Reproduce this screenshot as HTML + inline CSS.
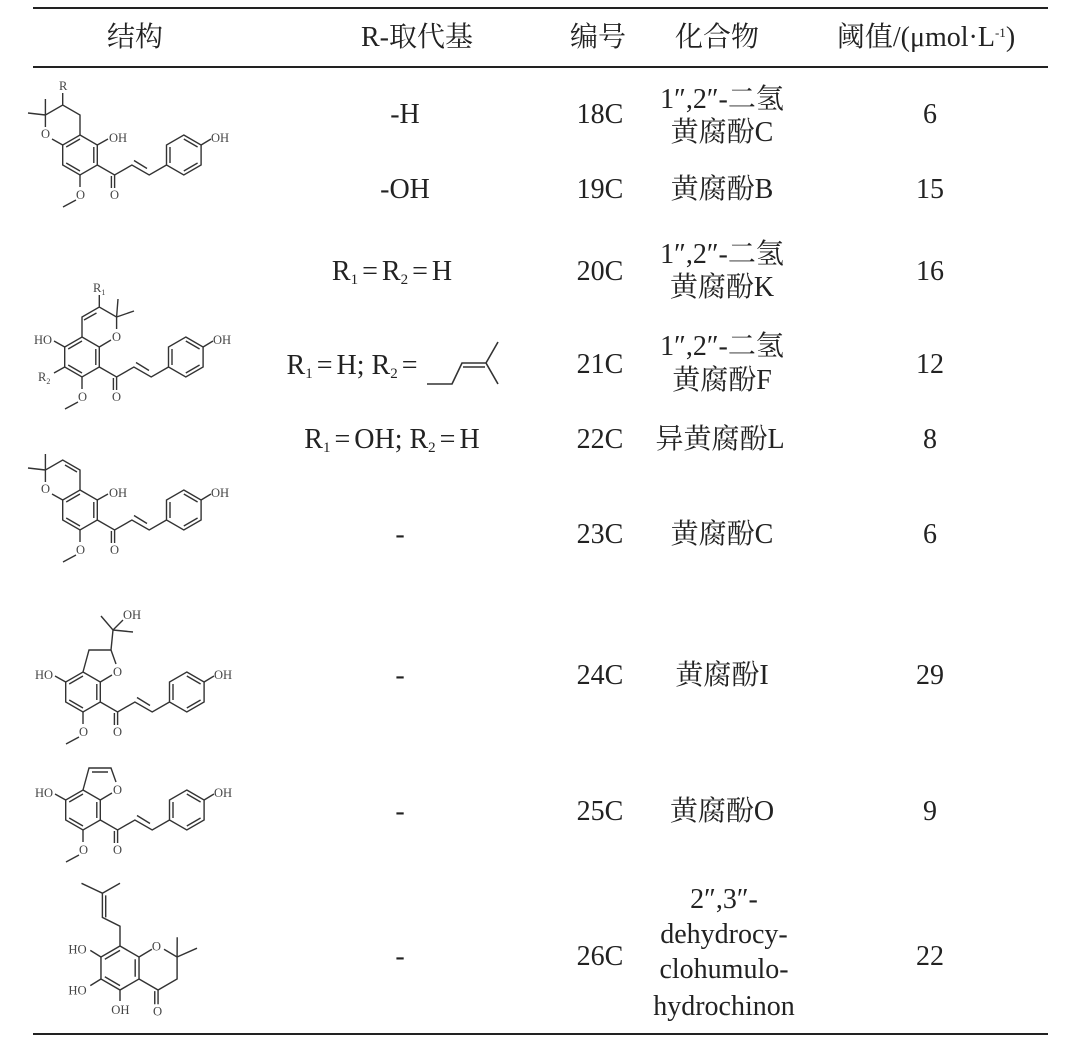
<!DOCTYPE html>
<html><head><meta charset="utf-8">
<style>
html,body{margin:0;padding:0;background:#fff;}
body{width:1091px;height:1044px;position:relative;overflow:hidden;font-family:"Liberation Serif","Noto Serif CJK SC",serif;color:#222;}
.t{position:absolute;font-size:28px;line-height:1;white-space:nowrap;transform:translate(-50%,-50%);}
.rule{position:absolute;left:33px;width:1015px;background:#222;}
sub{font-size:15px;vertical-align:-4px;line-height:0}
sup{font-size:13px;vertical-align:9px;line-height:0}
.eq{margin:0 4px}
svg{position:absolute;left:0;top:0;}
svg text{font-family:"Liberation Serif",serif;fill:#444;}
</style></head><body>
<div class="rule" style="top:7px;height:2px"></div>
<div class="rule" style="top:66px;height:1.5px"></div>
<div class="rule" style="top:1033px;height:2px"></div>

<div class="t" style="left:135px;top:38px">结构</div>
<div class="t" style="left:417px;top:38px">R-取代基</div>
<div class="t" style="left:598px;top:38px">编号</div>
<div class="t" style="left:717px;top:38px">化合物</div>
<div class="t" style="left:926px;top:38px">阈值/(μmol·L<sup>-1</sup>)</div>

<div class="t" style="left:405px;top:115px">-H</div>
<div class="t" style="left:600px;top:115px">18C</div>
<div class="t" style="left:722px;top:100px">1″,2″-二氢</div>
<div class="t" style="left:722px;top:133px">黄腐酚C</div>
<div class="t" style="left:930px;top:115px">6</div>

<div class="t" style="left:405px;top:190px">-OH</div>
<div class="t" style="left:600px;top:190px">19C</div>
<div class="t" style="left:722px;top:190px">黄腐酚B</div>
<div class="t" style="left:930px;top:190px">15</div>

<div class="t" style="left:392px;top:272px">R<sub>1</sub><span class="eq">=</span>R<sub>2</sub><span class="eq">=</span>H</div>
<div class="t" style="left:600px;top:272px">20C</div>
<div class="t" style="left:722px;top:255px">1″,2″-二氢</div>
<div class="t" style="left:722px;top:288px">黄腐酚K</div>
<div class="t" style="left:930px;top:272px">16</div>

<div class="t" style="left:354px;top:366px">R<sub>1</sub><span class="eq">=</span>H; R<sub>2</sub><span class="eq">=</span></div>
<div class="t" style="left:600px;top:365px">21C</div>
<div class="t" style="left:722px;top:347px">1″,2″-二氢</div>
<div class="t" style="left:722px;top:381px">黄腐酚F</div>
<div class="t" style="left:930px;top:365px">12</div>

<div class="t" style="left:392px;top:440px">R<sub>1</sub><span class="eq">=</span>OH; R<sub>2</sub><span class="eq">=</span>H</div>
<div class="t" style="left:600px;top:440px">22C</div>
<div class="t" style="left:720px;top:440px">异黄腐酚L</div>
<div class="t" style="left:930px;top:440px">8</div>

<div class="t" style="left:400px;top:535px">-</div>
<div class="t" style="left:600px;top:535px">23C</div>
<div class="t" style="left:722px;top:535px">黄腐酚C</div>
<div class="t" style="left:930px;top:535px">6</div>

<div class="t" style="left:400px;top:676px">-</div>
<div class="t" style="left:600px;top:676px">24C</div>
<div class="t" style="left:722px;top:676px">黄腐酚I</div>
<div class="t" style="left:930px;top:676px">29</div>

<div class="t" style="left:400px;top:812px">-</div>
<div class="t" style="left:600px;top:812px">25C</div>
<div class="t" style="left:722px;top:812px">黄腐酚O</div>
<div class="t" style="left:930px;top:812px">9</div>

<div class="t" style="left:400px;top:957px">-</div>
<div class="t" style="left:600px;top:957px">26C</div>
<div class="t" style="left:724px;top:900px">2″,3″-</div>
<div class="t" style="left:724px;top:935px">dehydrocy-</div>
<div class="t" style="left:724px;top:970px">clohumulo-</div>
<div class="t" style="left:724px;top:1007px">hydrochinon</div>
<div class="t" style="left:930px;top:957px">22</div>

<svg width="1091" height="1044" viewBox="0 0 1091 1044">
<defs>
<g id="ch" fill="none" stroke="#333" stroke-width="1.4">
 <polygon points="0,-20 17.3,-10 17.3,10 0,20 -17.3,10 -17.3,-10"/>
 <path d="M13.8,-8 L13.8,8 M0,16 L-13.8,8 M-13.8,-8 L0,-16"/>
 <polyline points="17.3,10 34.6,20 51.9,10 69.2,20 86.5,10"/>
 <path d="M54,5.5 L67,13.5 M34.6,20 L34.6,33 M31.4,21 L31.4,33"/>
 <polygon points="103.8,-20 121.1,-10 121.1,10 103.8,20 86.5,10 86.5,-10"/>
 <path d="M103.8,-16 L117.6,-8 M117.6,8 L103.8,16 M90,8 L90,-8 M121.1,-10 L131,-16"/>
 <path d="M0,20 L0,32 M-4,45 L-17,52"/>
</g>
</defs>

<!-- structure 1 -->
<g transform="translate(80,155)" font-size="12.5">
 <use href="#ch"/>
 <g fill="none" stroke="#333" stroke-width="1.4">
  <path d="M17.3,-10 L28,-16 M-17.3,-10 L-28,-16 M-34.6,-28 L-34.6,-40 L-17.3,-50 L0,-40 L0,-20 M-34.6,-40 L-52,-42 M-34.6,-40 L-34.6,-56 M-17.3,-50 L-17.3,-62"/>
 </g>
 <text x="29" y="-13">OH</text><text x="131" y="-13">OH</text>
 <text x="-39" y="-17">O</text><text x="-21" y="-65">R</text>
 <text x="-4" y="44">O</text><text x="30" y="44">O</text>
</g>

<!-- structure 2 -->
<g transform="translate(82,357)" font-size="12.5">
 <use href="#ch"/>
 <g fill="none" stroke="#333" stroke-width="1.4">
  <path d="M17.3,-10 L29,-17 M34.6,-28 L34.6,-40 L17.3,-50 L0,-40 L0,-20 M14.5,-44 L2,-37 M34.6,-40 L36,-58 M34.6,-40 L52,-46 M17.3,-50 L17.3,-62 M-17.3,-10 L-28,-16 M-17.3,10 L-28,16"/>
 </g>
 <text x="30" y="-16">O</text><text x="131" y="-13">OH</text>
 <text x="11" y="-65">R<tspan font-size="8" dy="3">1</tspan></text>
 <text x="-48" y="-13">HO</text><text x="-44" y="24">R<tspan font-size="8" dy="3">2</tspan></text>
 <text x="-4" y="44">O</text><text x="30" y="44">O</text>
</g>

<!-- structure 3 -->
<g transform="translate(80,510)" font-size="12.5">
 <use href="#ch"/>
 <g fill="none" stroke="#333" stroke-width="1.4">
  <path d="M17.3,-10 L28,-16 M-17.3,-10 L-28,-16 M-34.6,-28 L-34.6,-40 L-17.3,-50 L0,-40 L0,-20 M-15,-45 L-3,-38 M-34.6,-40 L-52,-42 M-34.6,-40 L-34.6,-56"/>
 </g>
 <text x="29" y="-13">OH</text><text x="131" y="-13">OH</text>
 <text x="-39" y="-17">O</text>
 <text x="-4" y="44">O</text><text x="30" y="44">O</text>
</g>

<!-- structure 4 -->
<g transform="translate(83,692)" font-size="12.5">
 <use href="#ch"/>
 <g fill="none" stroke="#333" stroke-width="1.4">
  <path d="M17.3,-10 L29,-17 M33,-28 L28,-42 L6,-42 L0,-20 M28,-42 L30,-62 L18,-76 M30,-62 L50,-60 M30,-62 L40,-72 M-17.3,-10 L-28,-16"/>
 </g>
 <text x="30" y="-16">O</text><text x="131" y="-13">OH</text>
 <text x="40" y="-73">OH</text>
 <text x="-48" y="-13">HO</text>
 <text x="-4" y="44">O</text><text x="30" y="44">O</text>
</g>

<!-- structure 5 -->
<g transform="translate(83,810)" font-size="12.5">
 <use href="#ch"/>
 <g fill="none" stroke="#333" stroke-width="1.4">
  <path d="M17.3,-10 L29,-17 M33,-28 L28,-42 L6,-42 L0,-20 M25,-38 L9,-38 M-17.3,-10 L-28,-16"/>
 </g>
 <text x="30" y="-16">O</text><text x="131" y="-13">OH</text>
 <text x="-48" y="-13">HO</text>
 <text x="-4" y="44">O</text><text x="30" y="44">O</text>
</g>

<!-- structure 6 -->
<g transform="translate(120,968) scale(1.1)" font-size="11.5">
 <g fill="none" stroke="#333" stroke-width="1.3">
  <polygon points="0,-20 17.3,-10 17.3,10 0,20 -17.3,10 -17.3,-10"/>
  <path d="M13.8,-8 L13.8,8 M0,16 L-13.8,8 M-13.8,-8 L0,-16"/>
  <path d="M0,-20 L0,-38 L-16,-46 L-16,-68 M-13,-46 L-13,-66 M-16,-68 L-35,-77 M-16,-68 L0,-77"/>
  <path d="M-17.3,-10 L-27,-16 M-17.3,10 L-27,16 M0,20 L0,30"/>
  <path d="M17.3,-10 L29,-17 M40,-17 L51.9,-10 L51.9,10 L34.6,20 L17.3,10 M34.6,20 L34.6,33 M31.6,21 L31.6,33 M51.9,-10 L52,-28 M51.9,-10 L70,-18"/>
 </g>
 <text x="29" y="-16">O</text>
 <text x="-47" y="-13">HO</text><text x="-47" y="24">HO</text>
 <text x="-8" y="42">OH</text><text x="30" y="43">O</text>
</g>

<!-- prenyl in R column -->
<g fill="none" stroke="#333" stroke-width="1.6">
 <path d="M427,384 L452,384 L462,363 L486,363 L498,342 M486,363 L498,384 M463,367 L485,367"/>
</g>
</svg>
</body></html>
